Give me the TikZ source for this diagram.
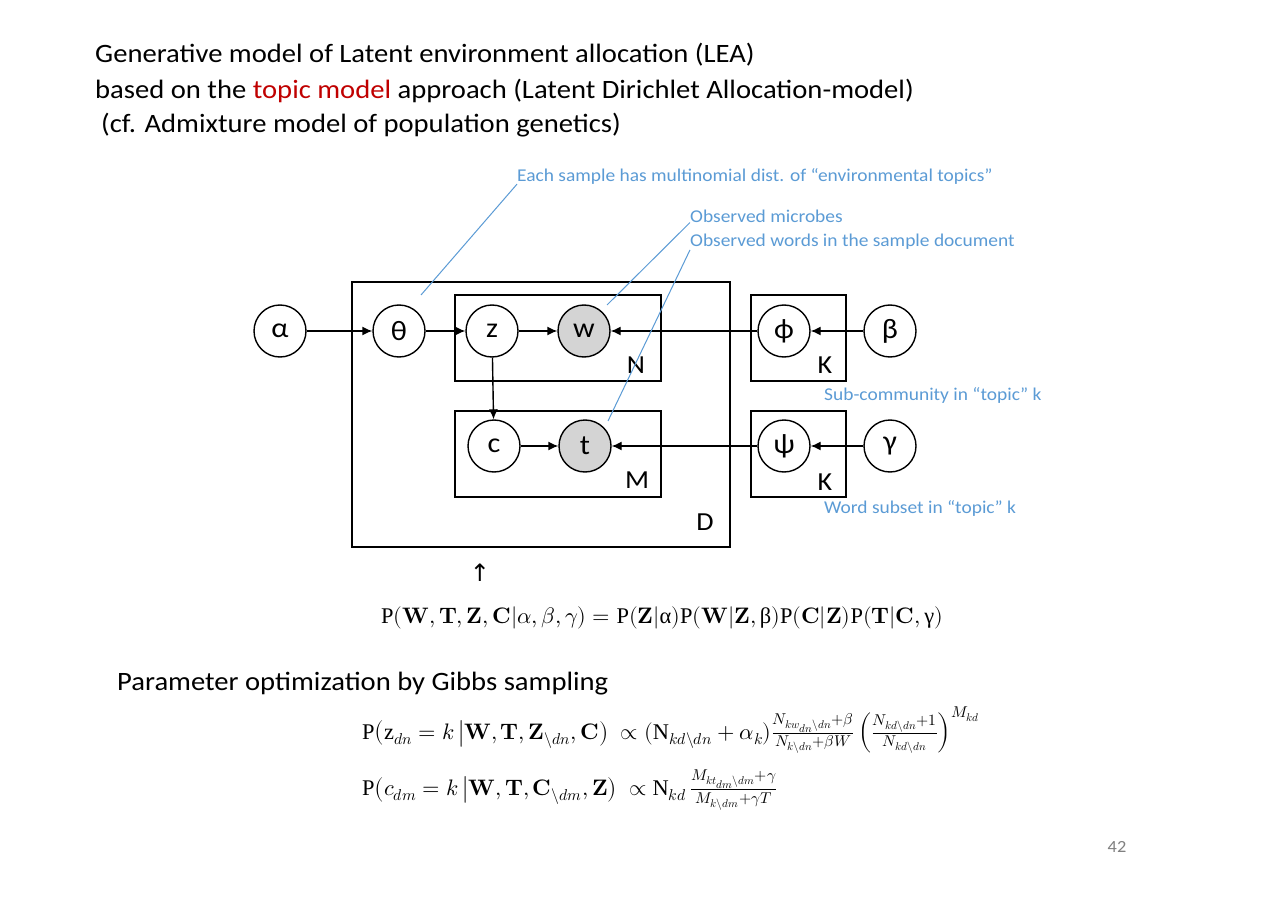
\documentclass[tikz,border=0pt]{standalone}
\usepackage{fontspec}
\usepackage{unicode-math}
\setmainfont{Carlito}[FakeStretch=1.08]
\setmathfont{Latin Modern Math}
\setmathrm{Liberation Serif}
\newfontfamily\arrowfont{DejaVu Sans}
\usetikzlibrary{arrows.meta}
\definecolor{noteblue}{RGB}{91,155,213}
\definecolor{hired}{RGB}{192,0,0}
\definecolor{pagegray}{RGB}{128,128,128}

\begin{document}
\begin{tikzpicture}[x=1pt,y=-1pt,
  var/.style={circle,draw,line width=1.4pt,minimum size=52pt,inner sep=0pt,
              font=\fontsize{28}{28}\selectfont},
  obs/.style={var,fill=black!17},
  plate/.style={draw,line width=1.4pt,inner sep=0pt},
  platelabel/.style={font=\fontsize{26}{26}\selectfont,inner sep=0pt},
  edge/.style={line width=1.4pt,-{Latex[length=10pt,width=9pt]}},
  note/.style={text=noteblue,font=\fontsize{18}{18}\selectfont,anchor=west,inner sep=0pt},
  leader/.style={draw=noteblue,line width=1pt},
  heading/.style={font=\fontsize{26.5}{26.5}\selectfont,anchor=west,inner sep=0pt},
  formula/.style={anchor=west,inner sep=0pt,font=\fontsize{22.4}{22.4}\selectfont}
]
\useasboundingbox (0,0) rectangle (1280,904);
\fill[white] (0,0) rectangle (1280,904);

% heading
\node[heading] (h1) at (95,55) {Generative model of Latent environment allocation (LEA)};
\node[heading] (h2) at (95,91) {based on the \textcolor{hired}{topic model} approach (Latent Dirichlet Allocation-model)};
\node[heading] (h3) at (101,125) {(cf. Admixture model of population genetics)};

% plates
\node[plate,minimum width=378pt,minimum height=265pt] (plateD) at (541,414.5) {};
\node[plate,minimum width=206pt,minimum height=86pt] (plateN) at (558,338) {};
\node[plate,minimum width=206pt,minimum height=86pt] (plateM) at (558,454) {};
\node[plate,minimum width=95pt,minimum height=86pt] (plateK1) at (798.5,338) {};
\node[plate,minimum width=95pt,minimum height=86pt] (plateK2) at (798.5,454) {};
\node[platelabel] (labN) at (636,365) {N};
\node[platelabel] (labM) at (637,480) {M};
\node[platelabel] (labD) at (705,522) {D};
\node[platelabel] (labK1) at (825,365) {K};
\node[platelabel] (labK2) at (825,482) {K};

% variables
\node[var] (alpha) at (280,331) {α};
\node[var] (theta) at (399,331) {θ};
\node[var] (z) at (492,331) {z};
\node[obs] (w) at (584,331) {w};
\node[var] (phi) at (784,331) {ϕ};
\node[var] (beta) at (890,331) {β};
\node[var] (c) at (494,446) {c};
\node[obs] (t) at (585,446) {t};
\node[var] (psi) at (784,446) {ψ};
\node[var] (gamma) at (890,446) {γ};

% dependencies
\draw[edge] (alpha) -- (theta);
\draw[edge] (theta) -- (z);
\draw[edge] (z) -- (w);
\draw[edge] (phi) -- (w);
\draw[edge] (beta) -- (phi);
\draw[edge] (z) -- (c);
\draw[edge] (c) -- (t);
\draw[edge] (psi) -- (t);
\draw[edge] (gamma) -- (psi);

% annotations
\node[note] (n1) at (517,176) {Each sample has multinomial dist. of “environmental topics”};
\node[note] (n2) at (690,216) {Observed microbes};
\node[note] (n3) at (690,242) {Observed words in the sample document};
\node[note] (n4) at (824,395) {Sub-community in “topic” k};
\node[note] (n5) at (824,508) {Word subset in “topic” k};
\coordinate (p1) at (421,295);
\coordinate (p2) at (607,305);
\coordinate (p3) at (608,421);
\draw[leader] (n1.south west) -- (p1);
\draw[leader] (n2.south west) -- (p2);
\draw[leader] (n3.south west) -- (p3);

% joint distribution
\node[font=\arrowfont\fontsize{24}{24}\selectfont,inner sep=0pt] (up) at (480,573) {↑};
\node[formula] (joint) at (381,618)
  {$\mathrm{P}(\symbf{W},\symbf{T},\symbf{Z},\symbf{C}|\alpha,\beta,\gamma)=\mathrm{P}(\symbf{Z}|\mathrm{α})\mathrm{P}(\symbf{W}|\symbf{Z},\mathrm{β})\mathrm{P}(\symbf{C}|\symbf{Z})\mathrm{P}(\symbf{T}|\symbf{C},\mathrm{γ})$};

% Gibbs sampling
\node[heading] (gibbs) at (117,684) {Parameter optimization by Gibbs sampling};
\node[formula] (gz) at (362,730)
  {$\mathrm{P}\big(\mathrm{z}_{dn}=k\,\big|\symbf{W},\symbf{T},\symbf{Z}_{\backslash dn},\symbf{C}\big)\ \propto(\mathrm{N}_{kd\backslash dn}+\alpha_k)\frac{N_{kw_{dn}\backslash dn}+\beta}{N_{k\backslash dn}+\beta W}\left(\frac{N_{kd\backslash dn}+1}{N_{kd\backslash dn}}\right)^{M_{kd}}$};
\node[formula] (gc) at (362,790)
  {$\mathrm{P}\big(c_{dm}=k\,\big|\symbf{W},\symbf{T},\symbf{C}_{\backslash dm},\symbf{Z}\big)\ \propto\mathrm{N}_{kd}\,\frac{M_{kt_{dm}\backslash dm}+\gamma}{M_{k\backslash dm}+\gamma T}$};

% page number
\node[text=pagegray,font=\fontsize{17}{17}\selectfont,inner sep=0pt] (pageno) at (1117,847) {42};
\end{tikzpicture}
\end{document}
